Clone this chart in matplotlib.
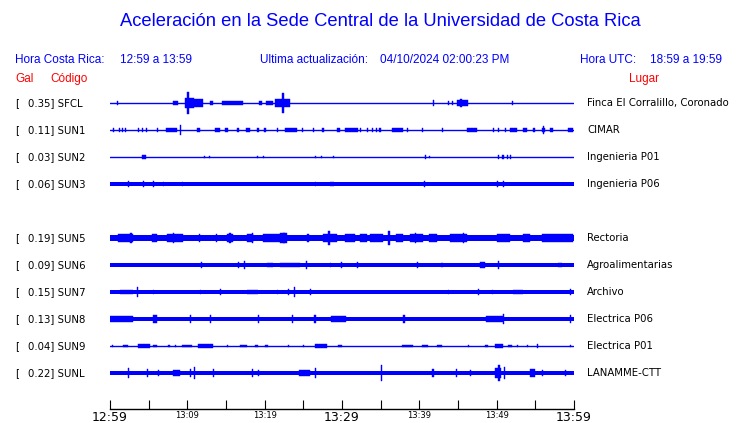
import matplotlib.pyplot as plt
from matplotlib import transforms

# station table (SUN4 has no trace, it keeps its empty row)
codes = ["SFCL", "SUN1", "SUN2", "SUN3", "SUN4", "SUN5", "SUN6", "SUN7", "SUN8", "SUN9", "SUNL"]
peak_gal = [0.35, 0.11, 0.03, 0.06, None, 0.19, 0.09, 0.15, 0.13, 0.04, 0.22]
places = ["Finca El Corralillo, Coronado", "CIMAR", "Ingenieria P01", "Ingenieria P06", "",
          "Rectoria", "Agroalimentarias", "Archivo", "Electrica P06", "Electrica P01", "LANAMME-CTT"]

# background noise half-width of each trace (in trace-spacing units)
noise = [0.0, 0.0, 0.0, 0.06, None, 0.11, 0.065, 0.065, 0.09, 0.0, 0.065]

# bursts: (start min, end min, half amplitude)
sfcl = [(0.9, 1.0, 0.075), (8.15, 8.8, 0.075), (9.7, 10.9, 0.2), (10.9, 12.0, 0.13),
        (10.0, 10.2, 0.41), (12.9, 13.3, 0.075), (14.5, 17.2, 0.07), (19.3, 19.7, 0.075),
        (20.2, 21.1, 0.075), (21.3, 23.3, 0.16), (22.2, 22.5, 0.36), (41.8, 41.9, 0.11),
        (43.7, 43.8, 0.075), (44.2, 44.3, 0.075), (44.9, 46.3, 0.1), (45.3, 45.5, 0.14),
        (52.0, 52.1, 0.09)]
sun1 = [(0.4, 0.5, 0.06), (1.1, 1.2, 0.06), (1.6, 1.7, 0.06), (2.0, 2.1, 0.06),
        (3.6, 3.8, 0.06), (4.2, 4.3, 0.06), (4.6, 4.8, 0.06), (6.1, 6.2, 0.06),
        (7.2, 8.7, 0.08), (9.0, 9.1, 0.19), (11.2, 11.7, 0.06), (13.6, 14.2, 0.06),
        (14.9, 15.3, 0.06), (16.4, 16.7, 0.06), (17.6, 18.1, 0.06), (19.0, 19.3, 0.06),
        (19.9, 20.2, 0.06), (21.6, 21.7, 0.06), (22.6, 24.2, 0.08), (24.8, 24.9, 0.06),
        (26.2, 26.3, 0.06), (27.4, 27.7, 0.06), (29.4, 29.7, 0.06), (30.4, 32.1, 0.08),
        (32.3, 32.4, 0.06), (33.2, 33.3, 0.06), (33.9, 34.0, 0.06), (34.4, 34.5, 0.06),
        (34.8, 35.0, 0.06), (36.5, 37.9, 0.08), (38.4, 38.5, 0.06), (40.3, 40.4, 0.06),
        (42.9, 43.0, 0.06), (46.2, 47.5, 0.08), (49.5, 49.6, 0.06), (50.2, 50.3, 0.06),
        (51.1, 51.2, 0.06), (51.7, 52.6, 0.08), (53.4, 53.9, 0.06), (54.7, 55.0, 0.06),
        (55.9, 56.3, 0.08), (56.0, 56.1, 0.16), (56.9, 57.3, 0.06), (59.2, 59.9, 0.08)]
sun2 = [(4.1, 4.7, 0.08), (12.2, 12.3, 0.055), (12.8, 12.9, 0.055), (19.0, 19.1, 0.055),
        (19.8, 19.9, 0.055), (26.5, 26.6, 0.055), (27.3, 27.4, 0.055), (28.8, 28.9, 0.055),
        (40.7, 40.8, 0.075), (41.2, 41.3, 0.055), (50.2, 50.3, 0.075), (50.7, 50.9, 0.09),
        (51.3, 51.4, 0.075), (51.7, 51.8, 0.075)]
sun3 = [(2.3, 2.4, 0.1), (4.3, 4.4, 0.1), (5.6, 5.7, 0.1), (6.8, 6.9, 0.09), (9.3, 9.4, 0.09),
        (26.5, 26.6, 0.09), (28.4, 29.0, 0.09), (40.6, 40.7, 0.1), (50.0, 50.1, 0.1),
        (50.8, 51.0, 0.12)]
sun5 = [(1.0, 3.0, 0.13), (2.6, 2.8, 0.18), (5.4, 6.1, 0.14), (7.4, 9.4, 0.14), (8.1, 8.3, 0.18),
        (11.5, 11.7, 0.14), (13.7, 13.9, 0.14), (15.1, 15.9, 0.15), (15.4, 15.6, 0.19),
        (17.7, 18.5, 0.14), (18.3, 18.5, 0.19), (19.8, 22.4, 0.13), (22.0, 22.9, 0.17),
        (22.4, 22.6, 0.2), (25.5, 25.7, 0.14), (27.5, 29.4, 0.16), (28.2, 28.4, 0.26),
        (30.4, 31.7, 0.13), (32.3, 33.2, 0.13), (33.6, 35.3, 0.14), (36.0, 36.2, 0.25),
        (37.0, 37.9, 0.14), (38.8, 40.5, 0.16), (39.4, 39.6, 0.2), (41.3, 42.3, 0.13),
        (44.0, 46.2, 0.14), (45.6, 45.8, 0.18), (50.0, 51.7, 0.16), (53.4, 54.3, 0.14),
        (55.9, 59.9, 0.13)]
sun6 = [(11.8, 11.9, 0.11), (16.5, 16.6, 0.11), (17.3, 17.4, 0.15), (20.3, 21.1, 0.085),
        (22.0, 24.6, 0.085), (25.3, 25.4, 0.15), (28.5, 28.6, 0.09), (29.9, 30.0, 0.11),
        (32.0, 32.1, 0.11), (39.7, 39.8, 0.11), (42.8, 43.0, 0.09), (47.9, 48.5, 0.1),
        (50.2, 50.3, 0.15), (57.9, 58.5, 0.09)]
sun7 = [(1.3, 3.0, 0.085), (3.5, 3.6, 0.17), (5.5, 5.6, 0.09), (11.6, 11.7, 0.09),
        (14.2, 14.3, 0.11), (17.7, 19.1, 0.085), (21.6, 21.7, 0.09), (23.0, 23.1, 0.11),
        (23.8, 23.9, 0.17), (25.9, 26.0, 0.11), (43.7, 43.8, 0.09), (47.6, 47.7, 0.11),
        (49.4, 49.5, 0.09), (52.1, 53.4, 0.085), (59.5, 59.6, 0.11)]
sun8 = [(0.0, 3.0, 0.11), (5.6, 6.1, 0.14), (10.3, 10.4, 0.13), (12.9, 13.0, 0.13),
        (19.1, 19.2, 0.13), (23.5, 23.6, 0.13), (26.4, 26.6, 0.14), (28.6, 30.5, 0.11),
        (37.9, 38.2, 0.14), (48.6, 50.8, 0.11), (50.8, 50.9, 0.19), (59.5, 59.6, 0.13)]
sun9 = [(0.3, 0.4, 0.055), (1.7, 2.3, 0.055), (3.6, 5.2, 0.065), (5.6, 6.1, 0.055),
        (7.5, 7.8, 0.055), (8.4, 8.5, 0.055), (9.3, 10.6, 0.055), (11.4, 13.3, 0.065),
        (15.1, 15.2, 0.055), (16.8, 17.7, 0.055), (18.7, 19.1, 0.055), (20.0, 20.4, 0.055),
        (23.0, 23.1, 0.055), (25.0, 25.1, 0.055), (26.5, 28.1, 0.065), (29.5, 30.0, 0.055),
        (37.8, 39.2, 0.055), (40.3, 41.1, 0.055), (42.3, 42.9, 0.055), (46.3, 46.4, 0.055),
        (48.5, 48.9, 0.055), (49.8, 50.8, 0.065), (51.5, 52.0, 0.055), (52.6, 52.7, 0.055),
        (53.9, 54.0, 0.055), (55.2, 55.3, 0.075), (59.5, 59.6, 0.055)]
sunl = [(2.3, 2.4, 0.17), (4.8, 4.9, 0.15), (6.2, 6.3, 0.11), (8.1, 9.1, 0.1),
        (10.3, 10.4, 0.15), (10.8, 10.9, 0.22), (13.3, 13.4, 0.15), (18.3, 18.4, 0.15),
        (19.1, 19.2, 0.11), (24.5, 25.9, 0.1), (26.5, 26.6, 0.2), (35.0, 35.1, 0.29),
        (41.6, 41.9, 0.14), (44.7, 44.8, 0.15), (46.5, 46.6, 0.11), (49.8, 50.6, 0.17),
        (50.2, 50.4, 0.28), (50.9, 51.0, 0.22), (54.3, 55.0, 0.13), (55.8, 55.9, 0.11),
        (58.8, 58.9, 0.11)]
bursts = [sfcl, sun1, sun2, sun3, None, sun5, sun6, sun7, sun8, sun9, sunl]

tick_minutes = list(range(0, 61, 5))
tick_labels = ["12:59", "", "13:09", "", "13:19", "", "13:29", "", "13:39", "", "13:49", "", "13:59"]
tick_sizes = [9, 6, 6, 6, 6, 6, 9, 6, 6, 6, 6, 6, 9]

BLUE = "#0000ff"
RED = "#ff0000"
W, H = 740, 423

fig = plt.figure(figsize=(W / 100, H / 100), dpi=100)
ax = fig.add_axes([110 / W, (H - 409) / H, 464 / W, (409 - 90) / H])
ax.set_xlim(0, 60)
ax.set_ylim((409 - 103) / 27, -(103 - 90) / 27)

for row, (base, ev) in enumerate(zip(noise, bursts)):
    if base is None:
        continue
    if base == 0:
        ax.plot([0, 60], [row, row], color=BLUE, lw=1)
    else:
        ax.fill_between([0, 60], row - base, row + base, color=BLUE, lw=0)
    for t0, t1, a in ev:
        t1 = max(t1, t0 + 0.13)
        ax.fill_between([t0, t1], row - a, row + a, color=BLUE, lw=0.3, edgecolor=BLUE)

for s in ["top", "left", "right"]:
    ax.spines[s].set_visible(False)
ax.spines["bottom"].set_linewidth(1)
ax.set_yticks([])
ax.set_xticks(tick_minutes)
ax.set_xticklabels(tick_labels)
ax.tick_params(axis="x", direction="in", length=6.5, width=0.8, pad=1.5)
for lbl, sz in zip(ax.get_xticklabels(), tick_sizes):
    lbl.set_fontsize(sz)

# row labels on both sides
tr = transforms.blended_transform_factory(fig.transFigure, ax.transData)
for row, (code, g, place) in enumerate(zip(codes, peak_gal, places)):
    if g is None:
        continue
    ax.text(15 / W, row, "[", transform=tr, fontsize=7.3, va="center", ha="left")
    ax.text(28 / W, row, f"{g:.2f}] {code}", transform=tr, fontsize=7.3, va="center", ha="left")
    ax.text(587 / W, row, place, transform=tr, fontsize=7.3, va="center", ha="left")

hf = "Liberation Sans"
fig.text(380 / W, 1 - 22 / H, "Aceleración en la Sede Central de la Universidad de Costa Rica",
         family=hf, fontsize=13.2, color=BLUE, ha="center", va="center")
header = [(15, "Hora Costa Rica:"), (120, "12:59 a 13:59"), (260, "Ultima actualización:"),
          (380, "04/10/2024 02:00:23 PM"), (580, "Hora UTC:"), (650, "18:59 a 19:59")]
for x, s in header:
    fig.text(x / W, 1 - 60 / H, s, family=hf, fontsize=8.5, color=BLUE, ha="left", va="center")
for x, s in [(15, "Gal"), (50, "Código"), (629, "Lugar")]:
    fig.text(x / W, 1 - 79 / H, s, family=hf, fontsize=8.5, color=RED, ha="left", va="center")

fig.savefig("out.png", dpi=100)
